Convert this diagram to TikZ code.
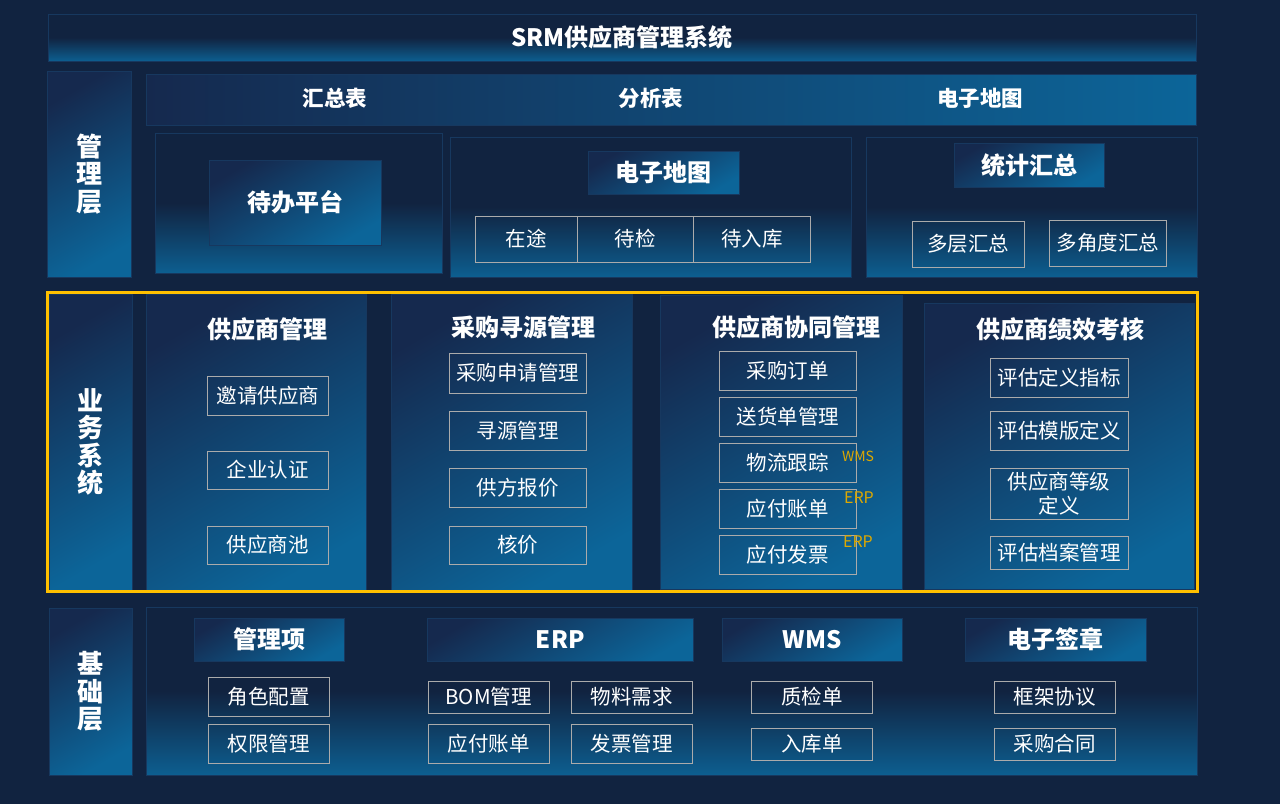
\documentclass[tikz,border=0pt]{standalone}
\usepackage{fontspec}
\setmainfont{Noto Sans CJK SC}
\definecolor{navy}{HTML}{112340}
\definecolor{deep}{HTML}{15294E}
\definecolor{glow}{HTML}{0C6599}
\definecolor{edge}{HTML}{17385F}
\definecolor{frame}{HTML}{ABABAB}
\definecolor{amber}{HTML}{FFC000}
\definecolor{gold}{HTML}{DDA800}
\tikzset{
  panel/.style={draw=edge, line width=1pt, top color=navy, bottom color=glow!90!navy,
    middle color=navy, inner sep=0pt, outer sep=0pt},
  tile/.style={draw=edge, line width=1pt, top color=deep, bottom color=glow,
    shading angle=30, inner sep=0pt, outer sep=0pt},
  item/.style={draw=frame, line width=0.9pt, text=white, inner sep=0pt, align=center,
    font=\fontsize{20.5}{24}\selectfont},
  head/.style={text=white, font=\bfseries\fontsize{24}{28}\selectfont},
  layer/.style={text=white, align=center, font=\bfseries\fontsize{26}{27.5}\selectfont},
  sz/.style 2 args={minimum width=#1pt, minimum height=#2pt},
  tag/.style={text=gold, inner sep=0pt, font=\fontsize{14}{16}\selectfont},
}
\begin{document}
\begin{tikzpicture}[x=1pt, y=-1pt]
    % ~~~~ 背景 ~~~~ %
    \fill[navy] (0,0) rectangle (1280,804);
    \useasboundingbox (0,0) rectangle (1280,804);

    % ~~~~ 标题 ~~~~ %
    \node[panel, head, sz={1148}{47}] (title) at (622,37.5) {SRM供应商管理系统};

    % ~~~~ 管理层 ~~~~ %
    \node[tile, layer, sz={84}{206}] (lyrMgmt) at (89,174) {管\\理\\层};
    \node[draw=edge, left color=deep, right color=glow, inner sep=0pt, sz={1050}{51.5}] (bar) at (671,99.75) {};
    \node[head, font=\bfseries\fontsize{21.5}{24}\selectfont] (sumTbl) at (335,98) {汇总表};
    \node[head, font=\bfseries\fontsize{21.5}{24}\selectfont] (anaTbl) at (651,98) {分析表};
    \node[head, font=\bfseries\fontsize{21.5}{24}\selectfont] (mapTbl) at (980,98) {电子地图};

    \node[panel, sz={287}{140}] (pnlTodo) at (298.5,203) {};
    \node[tile, head, sz={172}{85}] (todo) at (295,202.5) {待办平台};

    \node[panel, sz={401}{140}] (pnlMap) at (650.5,207) {};
    \node[tile, head, sz={150.5}{43}] (mapHead) at (663.75,172.5) {电子地图};
    \node[item, sz={101.5}{46}] (onWay) at (526.25,239) {在途};
    \node[item, sz={116.5}{46}] (toCheck) at (635.25,239) {待检};
    \node[item, sz={116.5}{46}] (toStore) at (751.75,239) {待入库};

    \node[panel, sz={331}{140}] (pnlStat) at (1031.5,207) {};
    \node[tile, head, sz={150}{44}] (statHead) at (1029,165) {统计汇总};
    \node[item, sz={112.5}{46}] (multiLvl) at (968.25,244) {多层汇总};
    \node[item, sz={117.5}{46}] (multiAng) at (1107.75,243) {多角度汇总};

    % ~~~~ 业务系统 ~~~~ %
    \node[tile, layer, sz={83.5}{296}] (lyrBiz) at (90.75,442) {业\\务\\系\\统};
    \node[tile, sz={220.5}{296}] (colSup) at (256.25,442) {};
    \node[tile, sz={241.5}{296}] (colSrc) at (511.75,442) {};
    \node[tile, sz={242.5}{294}] (colCoop) at (781.25,442) {};
    \node[tile, sz={269.5}{286}] (colEval) at (1059.25,446) {};

    \node[head] (supHead) at (267,329) {供应商管理};
    \node[item, sz={121.5}{39}] (invite) at (267.75,396) {邀请供应商};
    \node[item, sz={121.5}{38}] (certify) at (267.75,470) {企业认证};
    \node[item, sz={121.5}{38}] (pool) at (267.75,545) {供应商池};

    \node[head] (srcHead) at (523,327) {采购寻源管理};
    \node[item, sz={137.5}{40}] (reqMgmt) at (517.75,373) {采购申请管理};
    \node[item, sz={137.5}{39}] (srcMgmt) at (517.75,431) {寻源管理};
    \node[item, sz={137.5}{39}] (quote) at (517.75,487.5) {供方报价};
    \node[item, sz={137.5}{38}] (pricing) at (517.75,545) {核价};

    \node[head] (coopHead) at (796,327) {供应商协同管理};
    \node[item, sz={136.5}{39}] (order) at (787.75,370.5) {采购订单};
    \node[item, sz={136.5}{39}] (delivery) at (787.75,416.5) {送货单管理};
    \node[item, sz={136.5}{39}] (track) at (787.75,462.5) {物流跟踪};
    \node[item, sz={136.5}{39}] (payBill) at (787.75,508.5) {应付账单};
    \node[item, sz={136.5}{39}] (payInv) at (787.75,554.5) {应付发票};
    \node[tag] (tagWms) at (858,456) {WMS};
    \node[tag, font=\fontsize{16}{18}\selectfont] (tagErpA) at (859,498) {ERP};
    \node[tag, font=\fontsize{16}{18}\selectfont] (tagErpB) at (858,542) {ERP};

    \node[head] (evalHead) at (1060,329) {供应商绩效考核};
    \node[item, sz={138}{39}] (evalIdx) at (1059,377.5) {评估定义指标};
    \node[item, sz={138}{39}] (evalTpl) at (1059,430.5) {评估模版定义};
    \node[item, sz={138}{51}] (grade) at (1059,493.5) {供应商等级\\定义};
    \node[item, sz={138}{33}] (archive) at (1059,552.5) {评估档案管理};

    \draw[amber, line width=3pt] (47,292) rectangle (1197,591);

    % ~~~~ 基础层 ~~~~ %
    \node[tile, layer, sz={83.5}{167}] (lyrBase) at (90.75,691.5) {基\\础\\层};
    \node[panel, sz={1051}{168}] (pnlBase) at (671.5,691) {};

    \node[tile, head, sz={150}{43}] (itemHead) at (269,639.5) {管理项};
    \node[item, sz={121}{39}] (roles) at (268.5,696.5) {角色配置};
    \node[item, sz={121}{39}] (rights) at (268.5,743.5) {权限管理};

    \node[tile, head, sz={266.5}{43}] (erpHead) at (560.25,639.5) {ERP};
    \node[item, sz={121}{32}] (bom) at (488.5,697) {BOM管理};
    \node[item, sz={121}{39}] (erpBill) at (488.5,743.5) {应付账单};
    \node[item, sz={121.5}{32}] (demand) at (631.75,697) {物料需求};
    \node[item, sz={121.5}{39}] (invoice) at (631.75,743.5) {发票管理};

    \node[tile, head, sz={180.5}{43}] (wmsHead) at (812.25,639.5) {WMS};
    \node[item, sz={121.5}{32}] (qc) at (811.75,697) {质检单};
    \node[item, sz={121.5}{32}] (inbound) at (811.75,744) {入库单};

    \node[tile, head, sz={181}{43}] (signHead) at (1055.5,639.5) {电子签章};
    \node[item, sz={121.5}{32}] (frameAgr) at (1054.75,697) {框架协议};
    \node[item, sz={121.5}{32}] (contract) at (1054.75,744) {采购合同};
\end{tikzpicture}
\end{document}
